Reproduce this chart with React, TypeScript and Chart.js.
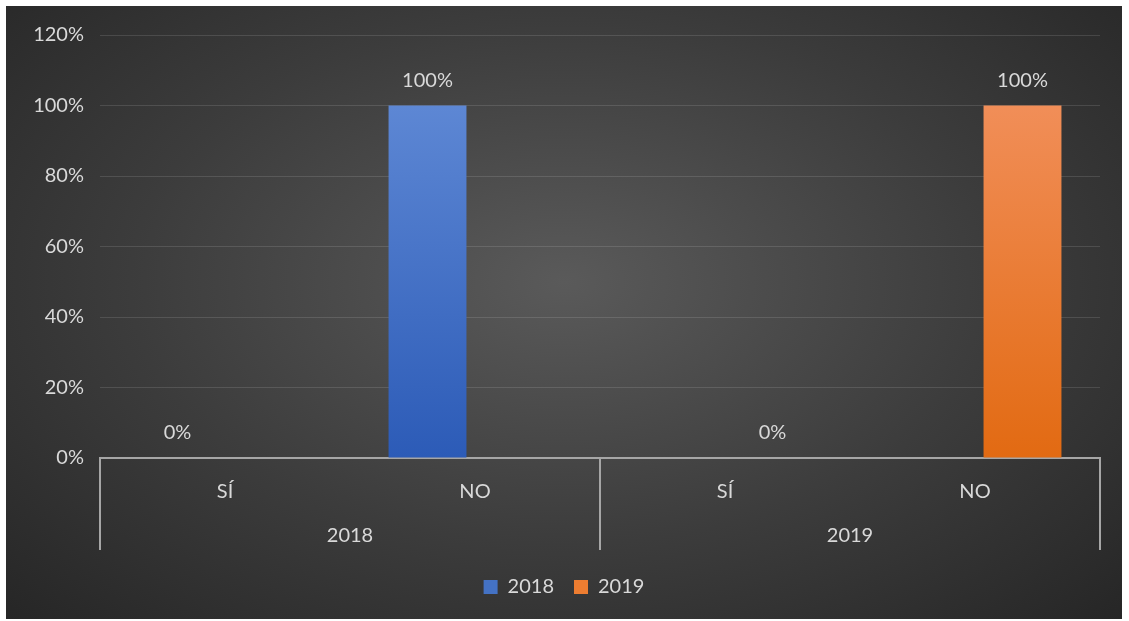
import React, { useEffect, useRef } from 'react';
import { Chart, registerables } from 'chart.js';

Chart.register(...registerables);

const categories = ['SÍ', 'NO', 'SÍ', 'NO'];
const groups = ['2018', '2019'];
const series2018: (number | null)[] = [0, 100, null, null];
const series2019: (number | null)[] = [null, null, 0, 100];
const yMin = 0;
const yMax = 120;
const yStep = 20;

const FONT = 'Lato, "Open Sans", sans-serif';
const TEXT = '#d9d9d9';
const FS = 20;

function barGradient(top: string, bottom: string, solid: string) {
  return (c: any) => {
    const chart = c.chart;
    const y = chart.scales?.y;
    if (!chart.chartArea || !y) return solid;
    const g = chart.ctx.createLinearGradient(0, y.getPixelForValue(100), 0, y.getPixelForValue(0));
    g.addColorStop(0, top);
    g.addColorStop(1, bottom);
    return g;
  };
}

const valueLabels = {
  id: 'valueLabels',
  afterDatasetsDraw(chart: any) {
    const ctx = chart.ctx;
    ctx.save();
    ctx.font = `${FS}px ${FONT}`;
    ctx.fillStyle = TEXT;
    ctx.textAlign = 'center';
    ctx.textBaseline = 'middle';
    chart.data.datasets.forEach((ds: any, di: number) => {
      const meta = chart.getDatasetMeta(di);
      ds.data.forEach((v: number | null, i: number) => {
        if (v === null || v === undefined) return;
        const el = meta.data[i];
        ctx.fillText(`${v}%`, el.x, el.y - 25);
      });
    });
    ctx.restore();
  },
};

const groupAxis = {
  id: 'groupAxis',
  afterDraw(chart: any) {
    const ctx = chart.ctx;
    const x = chart.scales.x;
    const area = chart.chartArea;
    const bottom = area.bottom;
    const per = categories.length / groups.length;
    ctx.save();
    ctx.strokeStyle = '#a6a6a6';
    ctx.lineWidth = 2;
    const bounds: number[] = [x.left];
    for (let g = 1; g < groups.length; g++) {
      bounds.push((x.getPixelForValue(g * per - 1) + x.getPixelForValue(g * per)) / 2);
    }
    bounds.push(x.right);
    bounds.forEach((bx) => {
      ctx.beginPath();
      ctx.moveTo(bx, bottom);
      ctx.lineTo(bx, bottom + 92);
      ctx.stroke();
    });
    ctx.font = `${FS}px ${FONT}`;
    ctx.fillStyle = TEXT;
    ctx.textAlign = 'center';
    ctx.textBaseline = 'middle';
    groups.forEach((g, gi) => {
      const cx = (bounds[gi] + bounds[gi + 1]) / 2;
      ctx.fillText(g, cx, bottom + 78);
    });
    ctx.restore();
  },
};

export default function App() {
  const ref = useRef<HTMLCanvasElement>(null);
  useEffect(() => {
    if (!ref.current) return;
    const chart = new Chart(ref.current, {
      type: 'bar',
      data: {
        labels: categories,
        datasets: [
          {
            label: '2018',
            data: series2018,
            backgroundColor: barGradient('#5d87d4', '#2c5bb7', '#4472c4'),
            categoryPercentage: 0.76,
            barPercentage: 0.82,
          },
          {
            label: '2019',
            data: series2019,
            backgroundColor: barGradient('#f18e58', '#e26a12', '#ed7d31'),
            categoryPercentage: 0.76,
            barPercentage: 0.82,
          },
        ],
      },
      options: {
        animation: false,
        responsive: true,
        maintainAspectRatio: false,
        layout: { padding: { top: 29, right: 22, bottom: 12, left: 22 } },
        plugins: {
          tooltip: { enabled: false },
          legend: {
            position: 'bottom',
            labels: {
              color: TEXT,
              font: { family: FONT, size: FS },
              boxWidth: 14,
              boxHeight: 14,
              padding: 20,
              generateLabels: () => [
                { text: '2018', fillStyle: '#4472c4', strokeStyle: '#4472c4', lineWidth: 0, fontColor: TEXT, datasetIndex: 0 } as any,
                { text: '2019', fillStyle: '#ed7d31', strokeStyle: '#ed7d31', lineWidth: 0, fontColor: TEXT, datasetIndex: 1 } as any,
              ],
            },
          },
        },
        scales: {
          x: {
            grid: { display: false, drawOnChartArea: false, drawTicks: false },
            border: { display: true, color: '#a6a6a6', width: 2 },
            ticks: { color: TEXT, font: { family: FONT, size: FS }, padding: 22 },
            afterFit: (s: any) => {
              s.height = 99;
            },
          },
          y: {
            min: yMin,
            max: yMax,
            grid: { color: 'rgba(255,255,255,0.12)', lineWidth: 1, drawTicks: false },
            border: { display: false },
            ticks: {
              stepSize: yStep,
              color: TEXT,
              font: { family: FONT, size: FS },
              padding: 16,
              callback: (v: any) => `${v}%`,
            },
            afterFit: (s: any) => {
              s.width = 72;
            },
          },
        },
      },
      plugins: [valueLabels, groupAxis],
    });
    return () => chart.destroy();
  }, []);

  return (
    <div
      style={{
        position: 'absolute',
        left: 6,
        top: 6,
        width: 1116,
        height: 613,
        background: 'radial-gradient(ellipse farthest-corner at 50% 45%, #5a5a5a 0%, #3c3c3c 55%, #262626 100%)',
      }}
    >
      <canvas ref={ref} />
    </div>
  );
}
